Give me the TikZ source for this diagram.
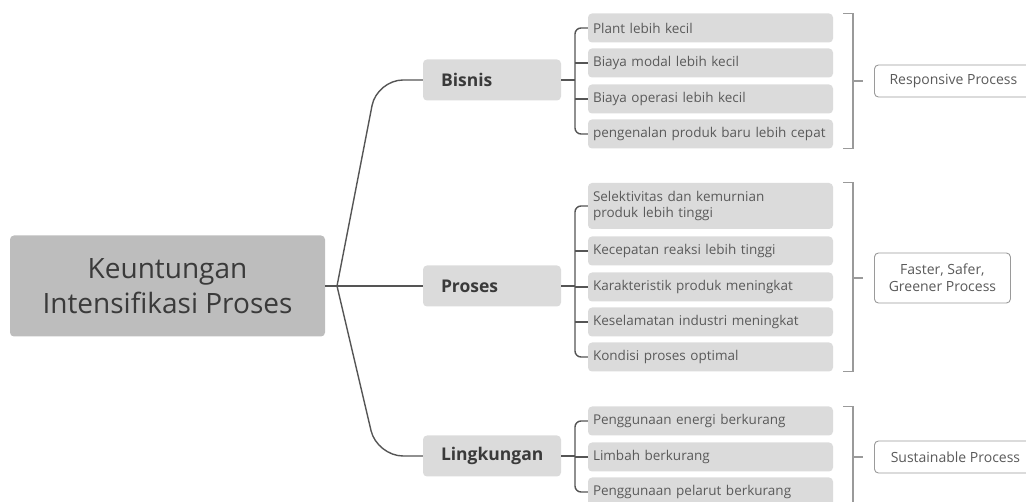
\documentclass[tikz,border=0pt]{standalone}
\usepackage{fontspec}
\setmainfont{Open Sans}
\usetikzlibrary{positioning,calc}
\definecolor{ink}{HTML}{3A3A3A}
\definecolor{muted}{HTML}{5A5A5A}
\definecolor{line}{HTML}{555555}
\definecolor{soft}{HTML}{DBDBDB}
\definecolor{rootfill}{HTML}{BDBDBD}
\definecolor{frame}{HTML}{9A9A9A}
\tikzset{
  rootbox/.style={
    fill=rootfill, rounded corners=4pt,
    minimum width=315pt, minimum height=101pt,
    align=center, font=\fontsize{28}{35}\selectfont, text=ink
  },
  topic/.style={
    fill=soft, rounded corners=4pt,
    minimum height=41pt, text width=102pt, inner xsep=18pt,
    align=left, font=\fontsize{17.5}{20}\selectfont\bfseries, text=ink
  },
  leaf/.style={
    fill=soft, rounded corners=4pt,
    minimum height=29pt, text width=235pt, inner xsep=5pt,
    align=left, font=\fontsize{13.5}{16.5}\selectfont, text=muted
  },
  tag/.style={
    draw=frame, fill=white, rounded corners=4pt, line width=0.9pt,
    minimum height=32pt, anchor=west,
    align=center, font=\fontsize{14}{17}\selectfont, text=muted
  },
  conn/.style={draw=line, line width=1.4pt},
  brace/.style={draw=frame, line width=1.1pt}
}
\begin{document}
\begin{tikzpicture}[x=1pt, y=-1pt]
  \useasboundingbox (0,0) rectangle (1026,502);
  \node[rootbox] (root) at (167.5,286) {Keuntungan\\Intensifikasi Proses};
  \node[topic] (bisnis) at (492,80) {Bisnis};
  \node[topic] (proses) at (492,286) {Proses};
  \node[topic] (lingk) at (492,456) {Lingkungan};
  % leaves
  \node[leaf] (b1) at (710.5,28) {Plant lebih kecil};
  \node[leaf] (b2) at (710.5,63) {Biaya modal lebih kecil};
  \node[leaf] (b3) at (710.5,99) {Biaya operasi lebih kecil};
  \node[leaf] (b4) at (710.5,134) {pengenalan produk baru lebih cepat};
  \node[leaf, minimum height=46pt] (p1) at (710.5,206) {Selektivitas dan kemurnian\\produk lebih tinggi};
  \node[leaf] (p2) at (710.5,251) {Kecepatan reaksi lebih tinggi};
  \node[leaf] (p3) at (710.5,287) {Karakteristik produk meningkat};
  \node[leaf] (p4) at (710.5,322) {Keselamatan industri meningkat};
  \node[leaf] (p5) at (710.5,357) {Kondisi proses optimal};
  \node[leaf] (l1) at (710.5,421) {Penggunaan energi berkurang};
  \node[leaf] (l2) at (710.5,457) {Limbah berkurang};
  \node[leaf] (l3) at (710.5,492) {Penggunaan pelarut berkurang};
  % summary tags
  \node[tag, minimum width=158pt] (resp) at (874,81) {Responsive Process};
  \node[tag, minimum width=136pt, minimum height=50pt] (fast) at (874,278) {Faster, Safer,\\Greener Process};
  \node[tag, minimum width=162pt] (sust) at (874,457) {Sustainable Process};

  % root to topics
  \coordinate (j) at (337,286);
  \draw[conn] (root.east) -- (j);
  \draw[conn, rounded corners=26pt] (j) -- (377,80) -- (bisnis.west);
  \draw[conn] (j) -- (proses.west);
  \draw[conn, rounded corners=26pt] (j) -- (377,456) -- (lingk.west);

  % topics to leaves
  \coordinate (bx) at (575,80);
  \coordinate (px) at (575,286);
  \coordinate (lx) at (575,456);
  \draw[conn] (bisnis.east) -- (bx);
  \draw[conn, rounded corners=6pt] (b1.west) -| (bx) |- (b4.west);
  \draw[conn] (bx |- b2.west) -- (b2.west);
  \draw[conn] (bx |- b3.west) -- (b3.west);
  \draw[conn] (proses.east) -- (px);
  \draw[conn, rounded corners=6pt] (p1.west) -| (px) |- (p5.west);
  \draw[conn] (px |- p2.west) -- (p2.west);
  \draw[conn] (px |- p4.west) -- (p4.west);
  \draw[conn] (px |- p3.west) -- (p3.west);
  \draw[conn] (lingk.east) -- (lx);
  \draw[conn, rounded corners=6pt] (l1.west) -| (lx) |- (l3.west);
  \draw[conn] (lx |- l2.west) -- (l2.west);

  % right brackets
  \coordinate (rb) at (853,81);
  \coordinate (rp) at (853,278);
  \coordinate (rl) at (853,457);
  \draw[brace] ([xshift=10pt]b1.north east) -| (rb) |- ([xshift=10pt]b4.south east);
  \draw[brace] (rb) -- ++(10,0);
  \draw[brace] ([xshift=10pt]p1.north east) -| (rp) |- ([xshift=10pt]p5.south east);
  \draw[brace] (rp) -- ++(10,0);
  \draw[brace] ([xshift=10pt]l1.north east) -| (rl) |- ([xshift=10pt]l3.south east);
  \draw[brace] (rl) -- ++(10,0);
\end{tikzpicture}
\end{document}
